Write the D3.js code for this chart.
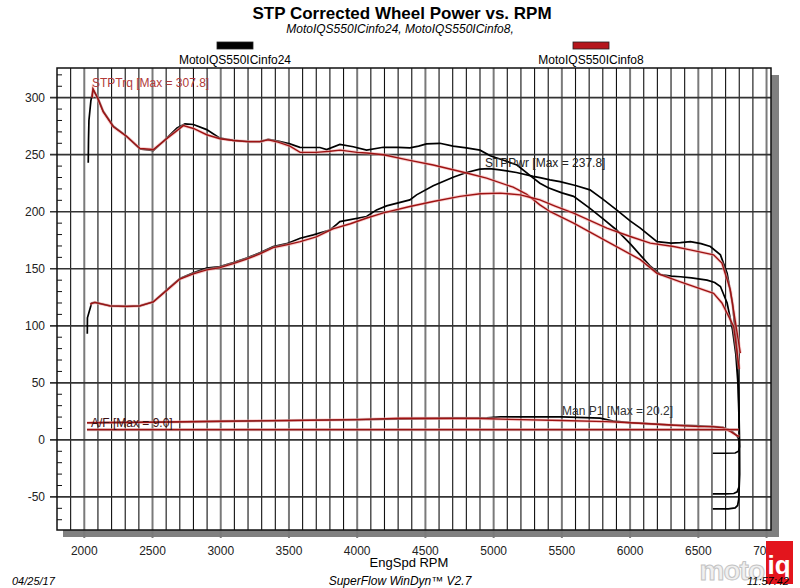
<!DOCTYPE html>
<html>
<head>
<meta charset="utf-8">
<script src="https://cdn.jsdelivr.net/npm/d3@7"></script>
<style>
  body { margin: 0; background: #fff; }
  text { font-family: "Liberation Sans", Arial, sans-serif; }
</style>
</head>
<body>
<script>
const width = 800;
const height = 588;

// data: [rpm, value]
const trq24 = [[2029,243],[2031,263],[2034,280],[2048,297],[2064,307],[2100,299.5],[2139,288],[2213,275],[2311,266],[2408,255],[2506,253.5],[2604,264.5],[2680,273.5],[2738,277],[2800,276.5],[2897,272],[2994,264.5],[3092,262.5],[3200,261.5],[3287,261.5],[3348,263.5],[3420,262],[3507,259.5],[3580,256.5],[3727,256.3],[3776,254.5],[3873,259],[3971,257],[4069,254],[4191,256.5],[4300,256.5],[4386,256],[4450,257.5],[4508,259.5],[4606,260],[4703,257.5],[4800,256],[4900,254],[4975,249],[5100,244],[5171,241],[5291,229.5],[5339,225],[5400,221],[5500,216.5],[5586,213.5],[5706,203],[5800,194],[5901,184],[6000,172],[6075,162],[6150,152],[6222,145],[6300,143.5],[6369,143],[6450,142],[6564,140],[6620,138],[6662,134.5],[6711,120],[6750,97],[6775,75],[6790,50],[6798,20],[6800,-10],[6800,-40],[6796,-52],[6788,-57.5],[6770,-59.6],[6720,-60.4],[6606,-60.4]];
const trq8 = [[2058,300],[2064,307.8],[2100,299],[2139,287.5],[2213,274.5],[2311,266],[2408,255.5],[2506,254.5],[2604,264],[2726,275.5],[2800,273],[2897,267.5],[2994,264],[3092,262.5],[3200,261.5],[3287,261.5],[3348,263],[3420,261],[3507,257.5],[3582,252],[3700,252],[3800,253],[3875,254],[4000,252],[4071,251.5],[4192,250],[4386,245],[4557,241],[4801,234],[4948,229.5],[5143,221.5],[5240,215.5],[5339,206],[5415,200],[5586,190],[5830,174],[6075,158],[6197,146],[6369,138.5],[6612,128.5],[6673,120],[6759,99.5],[6800,62]];
const pwr24 = [[2022,93],[2023,107],[2054,120],[2078,120.5],[2188,117.5],[2311,117],[2408,117.5],[2506,121],[2604,131.5],[2701,141.5],[2799,146.5],[2897,150.5],[2994,152],[3092,155.5],[3190,159.5],[3287,164],[3385,169.5],[3483,172],[3582,176.8],[3679,179.7],[3800,184],[3850,189],[3873,191.4],[4069,195.8],[4142,201.6],[4215,205.1],[4386,210.4],[4435,214.8],[4557,222.7],[4703,230.3],[4801,234.4],[4899,237.3],[4970,237.8],[5045,236.7],[5167,234.4],[5290,231],[5339,229.9],[5413,228],[5486,226.4],[5600,223],[5706,219.2],[5800,211],[5901,201.6],[6000,192],[6075,185.6],[6197,173.8],[6300,172.5],[6369,173],[6442,173.8],[6520,172],[6588,169.5],[6662,162.2],[6711,146.1],[6750,120],[6780,85],[6795,45],[6802,0],[6803,-30],[6799,-41],[6785,-45.5],[6760,-47],[6700,-47.3],[6606,-47.3]];
const pwr8 = [[2042,119],[2078,120.5],[2188,117.5],[2311,117],[2408,117.5],[2506,121],[2604,131],[2701,141],[2799,145.5],[2897,149],[2994,151],[3092,154.5],[3190,158.5],[3287,163],[3385,168.5],[3483,171],[3582,173.8],[3700,178],[3822,185],[3950,189.5],[4071,194.5],[4192,199],[4386,204.6],[4557,209],[4753,213.5],[4902,215.8],[5049,216.3],[5196,214.8],[5293,211.8],[5339,210.4],[5450,205],[5586,198.7],[5830,185.6],[6001,178.3],[6148,172.5],[6319,169.5],[6441,166.6],[6612,162.2],[6673,155],[6734,131.7],[6808,76]];
const manp24 = [[2020,15],[2500,15.5],[3000,16.3],[3500,17],[4000,17.8],[4313,18.5],[4700,19],[4950,19.4],[5050,20.2],[5500,20.2],[5780,19],[5876,16.5],[6000,15.2],[6315,13],[6511,12.3],[6606,11.7],[6680,11],[6740,8],[6780,4],[6800,0],[6802,-6],[6795,-10],[6770,-11.5],[6700,-11.7],[6606,-11.7]];
const manp8 = [[2020,15],[2500,15.5],[3000,16.3],[3500,17],[4000,17.8],[4313,18.9],[4900,18.8],[5119,18],[5500,17],[5827,16],[6000,15],[6300,13],[6511,11.6],[6606,11.6],[6680,10.5],[6740,7],[6780,4],[6800,3]];
const af24 = [[2020,9],[6795,9]];
const af8 = [[2020,9],[6795,9]];

const xTicks = d3.range(2000, 7001, 500);
const yTicks = d3.range(-50, 301, 50);
const runNames = ["MotoIQS550ICinfo24", "MotoIQS550ICinfo8"];
const runColors = ["#000000", "#b5161c"];

const svg = d3.select("body").append("svg")
    .attr("width", width)
    .attr("height", height);

svg.append("rect").attr("width", width).attr("height", height).attr("fill", "#fff");

const x = d3.scaleLinear().domain([1800, 7040]).range([57, 772]);
const y = d3.scaleLinear().domain([-79, 326]).range([530, 68]);

// titles
svg.append("text").attr("x", 402).attr("y", 19).attr("text-anchor", "middle")
    .attr("font-size", 17).attr("font-weight", "bold")
    .text("STP Corrected Wheel Power vs. RPM");
svg.append("text").attr("x", 400).attr("y", 33).attr("text-anchor", "middle")
    .attr("font-size", 12).attr("font-style", "italic")
    .text(runNames.join(", ") + ",");

// legend
const legX = [235, 591];
runNames.forEach(function(n, i) {
    svg.append("rect").attr("x", legX[i] - 18).attr("y", 42).attr("width", 36).attr("height", 7)
        .attr("fill", runColors[i]).attr("stroke", "#222").attr("stroke-width", 0.8);
    svg.append("text").attr("x", legX[i]).attr("y", 64).attr("text-anchor", "middle")
        .attr("font-size", 12).text(n);
});

// drop shadow of the plot box
svg.append("rect").attr("x", 771).attr("y", 75).attr("width", 8).attr("height", 462).attr("fill", "#808080");
svg.append("rect").attr("x", 63).attr("y", 530).attr("width", 716).attr("height", 7).attr("fill", "#808080");

svg.append("rect").attr("x", 57).attr("y", 68).attr("width", 714).attr("height", 462).attr("fill", "#fff");

// vertical grid every 100 rpm, 500s grey and heavier
const g = svg.append("g");
g.selectAll(".vgrid").data(d3.range(1900, 7001, 100))
    .enter().append("line")
    .attr("x1", d => x(d)).attr("x2", d => x(d))
    .attr("y1", 68)
    .attr("y2", d => d % 500 === 0 ? 538 : 530)
    .attr("stroke", d => d % 500 === 0 ? "#7a7a7a" : "#111")
    .attr("stroke-width", d => d % 500 === 0 ? 2 : 1.1);

// minor ticks on the left edge
g.selectAll(".ytick").data(d3.range(-70, 321, 10).filter(d => d % 50 !== 0))
    .enter().append("line")
    .attr("x1", 57).attr("x2", 62)
    .attr("y1", d => y(d)).attr("y2", d => y(d))
    .attr("stroke", "#111").attr("stroke-width", 1);

g.selectAll(".hgrid").data(yTicks)
    .enter().append("line")
    .attr("x1", 50).attr("x2", 771)
    .attr("y1", d => y(d)).attr("y2", d => y(d))
    .attr("stroke", "#333").attr("stroke-width", 1.7);

svg.append("rect").attr("x", 57).attr("y", 68).attr("width", 714).attr("height", 462)
    .attr("fill", "none").attr("stroke", "#111").attr("stroke-width", 1.5);

// axis labels
svg.selectAll(".ylab").data(yTicks)
    .enter().append("text")
    .attr("x", 45).attr("y", d => y(d) + 4.5)
    .attr("text-anchor", "end").attr("font-size", 12).attr("fill", "#222")
    .text(d => d);
svg.selectAll(".xlab").data(xTicks)
    .enter().append("text")
    .attr("x", d => x(d)).attr("y", 555)
    .attr("text-anchor", "middle").attr("font-size", 12).attr("fill", "#222")
    .text(d => d);
svg.append("text").attr("x", 409).attr("y", 567).attr("text-anchor", "middle")
    .attr("font-size", 13).text("EngSpd  RPM");

// curves
svg.append("clipPath").attr("id", "plotclip").append("rect")
    .attr("x", 57).attr("y", 68).attr("width", 714).attr("height", 462);
const curves = svg.append("g").attr("clip-path", "url(#plotclip)");
const line = d3.line().x(d => x(d[0])).y(d => y(d[1]));

[trq24, pwr24, manp24, af24].forEach(function(s) {
    curves.append("path").datum(s).attr("d", line)
        .attr("fill", "none").attr("stroke", runColors[0]).attr("stroke-width", 1.7);
});
[trq8, pwr8, manp8, af8].forEach(function(s) {
    curves.append("path").datum(s).attr("d", line)
        .attr("fill", "none").attr("stroke", "#f2a8a8").attr("stroke-width", 3.2).attr("opacity", 0.55);
    curves.append("path").datum(s).attr("d", line)
        .attr("fill", "none").attr("stroke", "#9e1212").attr("stroke-width", 1.4);
});

// curve captions
const captions = [
    {t: "STPTrq [Max = 307.8]", rpm: 2056, v: 309.5, c: "#b03a3a"},
    {t: "STPPwr [Max = 237.8]", rpm: 4937, v: 239.3, c: "#222"},
    {t: "A/F   [Max = 9.0]", rpm: 2049, v: 11.4, c: "#3a1010"},
    {t: "Man P1 [Max = 20.2]", rpm: 5501, v: 21.9, c: "#333"}
];
svg.selectAll(".cap").data(captions)
    .enter().append("text")
    .attr("x", d => x(d.rpm)).attr("y", d => y(d.v))
    .attr("font-size", 12).attr("fill", d => d.c)
    .text(d => d.t);

// footer
svg.append("text").attr("x", 12).attr("y", 585).attr("font-size", 11).attr("font-style", "italic").text("04/25/17");
svg.append("text").attr("x", 400).attr("y", 585).attr("text-anchor", "middle")
    .attr("font-size", 12).attr("font-style", "italic").text("SuperFlow WinDyn\u2122 V2.7");

// motoiq watermark
svg.append("text").attr("x", 764).attr("y", 580).attr("text-anchor", "end")
    .attr("font-size", 28).attr("font-weight", "bold").attr("fill", "#f0f0f0")
    .attr("stroke", "#c4c4c4").attr("stroke-width", 1).attr("letter-spacing", -1).text("moto");
svg.append("rect").attr("x", 766).attr("y", 541).attr("width", 27).attr("height", 43).attr("fill", "#e3151d");
svg.append("text").attr("x", 779).attr("y", 574).attr("text-anchor", "middle")
    .attr("font-size", 26).attr("font-weight", "bold").attr("fill", "#fff").text("iq");
svg.append("text").attr("x", 789).attr("y", 585).attr("text-anchor", "end")
    .attr("font-size", 11).attr("font-style", "italic").text("11:57:42");
</script>
</body>
</html>
